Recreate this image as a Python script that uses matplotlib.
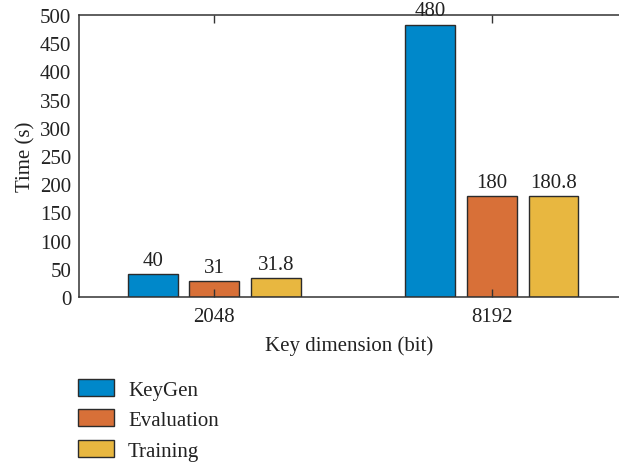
import numpy as np
import matplotlib.pyplot as plt
from matplotlib.patches import Patch

plt.rcParams['font.family'] = ['Liberation Serif', 'DejaVu Serif']

# data
key_dims = ['2048', '8192']
series = ['KeyGen', 'Evaluation', 'Training']
keygen = [40.8, 483]
evaluation = [27.8, 178.5]
training = [33.0, 178.5]
keygen_lbl = ['40', '480']
evaluation_lbl = ['31', '180']
training_lbl = ['31.8', '180.8']
yticks = [0, 50, 100, 150, 200, 250, 300, 350, 400, 450, 500]

colors = ['#0088CA', '#D87038', '#E8B740']
edge = '#2b2b2b'
fs = 15

fig = plt.figure(figsize=(6.19, 4.64), dpi=100)
ax = fig.add_axes([79/619, (464-298)/464, 1 - 79/619, (298-16)/464])

x = np.arange(1, len(key_dims) + 1)
w = 0.18
step = 0.222
vals = [keygen, evaluation, training]
lbls = [keygen_lbl, evaluation_lbl, training_lbl]
for i in range(3):
    pos = x + (i - 1) * step
    ax.bar(pos, vals[i], width=w, color=colors[i], edgecolor=edge, linewidth=1.0, label=series[i])
    for px, v, t in zip(pos, vals[i], lbls[i]):
        ax.annotate(t, (px, v), xytext=(0, 3), textcoords='offset points',
                    ha='center', va='bottom', fontsize=fs, color='#222222',
                    annotation_clip=False)

ax.set_xlim(0.512, 2.458)
ax.set_ylim(0, 500)
ax.set_xticks(x)
ax.set_xticklabels(key_dims)
ax.set_yticks(yticks)
ax.tick_params(axis='x', direction='in', length=6, top=True, width=1, color='#333333',
               labelsize=fs, pad=7, labelcolor='#222222')
ax.tick_params(axis='y', length=0, labelsize=fs, pad=5.5, labelcolor='#222222')
for s in ['left', 'top', 'bottom']:
    ax.spines[s].set_color('#333333')
    ax.spines[s].set_linewidth(1.1)
ax.spines['right'].set_visible(False)
ax.set_xlabel('Key dimension (bit)', fontsize=fs, color='#222222', labelpad=7)
ax.set_ylabel('Time (s)', fontsize=fs, color='#222222', labelpad=3)

handles = [Patch(facecolor=c, edgecolor=edge, linewidth=1.0) for c in colors]
fig.legend(handles, series, loc='upper left', bbox_to_anchor=(78/619, 0.181),
           frameon=False, fontsize=fs, handlelength=1.73, handleheight=0.87,
           handletextpad=0.67, labelspacing=0.47, borderpad=0, borderaxespad=0,
           labelcolor='#222222')

fig.savefig('out.png', dpi=100)
